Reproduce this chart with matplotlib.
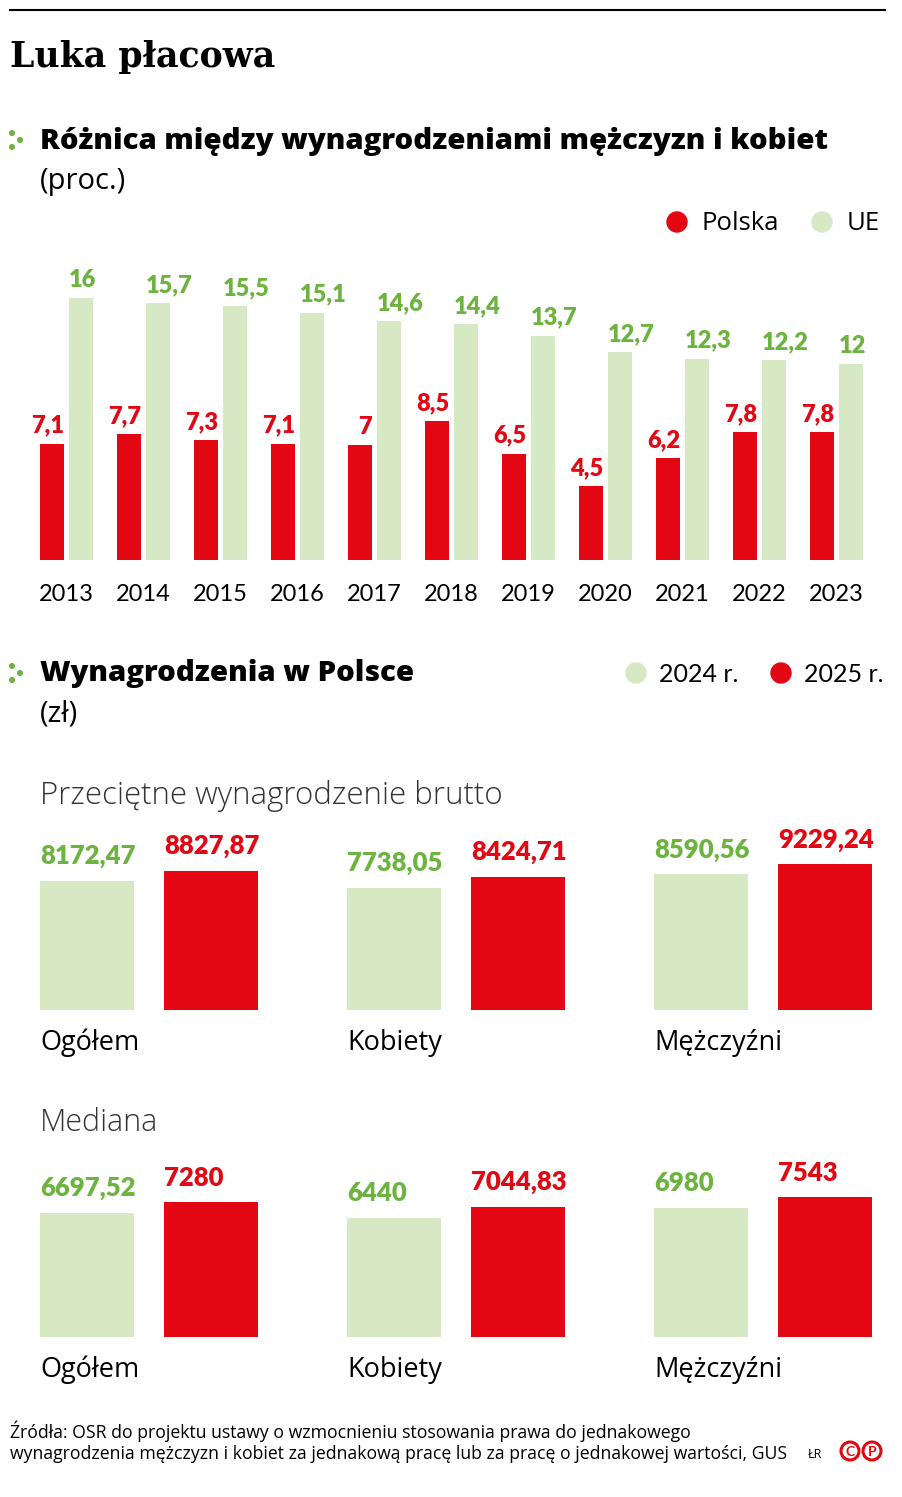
import matplotlib
matplotlib.use("Agg")
import matplotlib.pyplot as plt
from matplotlib.patches import Circle
import numpy as np

plt.rcParams['font.family'] = ['Lato', 'DejaVu Sans']
SANS = ['Open Sans', 'DejaVu Sans']

# --- data ---
years = ['2013', '2014', '2015', '2016', '2017', '2018', '2019', '2020', '2021', '2022', '2023']
gap_pl = [7.1, 7.7, 7.3, 7.1, 7.0, 8.5, 6.5, 4.5, 6.2, 7.8, 7.8]
gap_ue = [16, 15.7, 15.5, 15.1, 14.6, 14.4, 13.7, 12.7, 12.3, 12.2, 12]

groups = ['Ogółem', 'Kobiety', 'Mężczyźni']
brutto_2024 = [8172.47, 7738.05, 8590.56]
brutto_2025 = [8827.87, 8424.71, 9229.24]
median_2024 = [6697.52, 6440, 6980]
median_2025 = [7280, 7044.83, 7543]

RED = '#e30613'
LIGHT = '#d7e8c5'
GREEN = '#6cb33f'
W, H = 902, 1497


def px_axes(fig, left, top, width, bottom):
    return fig.add_axes([left / W, 1 - bottom / H, width / W, (bottom - top) / H])


def fmt_pct(v):
    return f"{v:g}".replace('.', ',')


def fmt_pln(v):
    return str(int(v)) if float(v).is_integer() else f"{v:.2f}".replace('.', ',')


def clean(ax):
    for s in ax.spines.values():
        s.set_visible(False)
    ax.set_yticks([])
    ax.tick_params(bottom=False, left=False)
    ax.patch.set_alpha(0)


def label_bars(ax, bars, values, fmt, color, size, pad, side):
    # side: 'left' -> text starts at bar's left edge, 'right' -> ends at right edge
    for p, v in zip(bars, values):
        x = p.get_x() if side == 'left' else p.get_x() + p.get_width()
        ax.annotate(fmt(v), xy=(x, p.get_height()), xytext=(0, pad), textcoords='offset points',
                    ha=side, va='bottom', color=color, fontsize=size, fontweight='heavy')


fig = plt.figure(figsize=(W / 100, H / 100), dpi=100)

# overlay for free text, pixel coords
ov = fig.add_axes([0, 0, 1, 1])
ov.set_xlim(0, W)
ov.set_ylim(H, 0)
ov.axis('off')

ov.plot([10, 885], [10, 10], color='black', lw=1.5)
ov.text(10, 57, 'Luka płacowa', fontsize=25, fontweight='bold', family='DejaVu Serif',
        va='center', ha='left')


def bullet(y):
    for dx, dy in [(12, -7), (20, 0), (12, 7)]:
        ov.add_patch(Circle((dx, y + dy), 2.3, color=GREEN))


bullet(140)
ov.text(40, 141, 'Różnica między wynagrodzeniami mężczyzn i kobiet', fontsize=21.2,
        fontweight='heavy', family=SANS, va='center', ha='left')
ov.text(40, 182, '(proc.)', fontsize=21, family=SANS, va='center', ha='left')

ov.add_patch(Circle((677, 222), 10, color=RED))
ov.text(702, 223, 'Polska', fontsize=18.5, family=SANS, va='center', ha='left')
ov.add_patch(Circle((822, 222), 10, color=LIGHT))
ov.text(847, 223, 'UE', fontsize=18.5, family=SANS, va='center', ha='left')

bullet(673)
ov.text(40, 673, 'Wynagrodzenia w Polsce', fontsize=21.2, fontweight='heavy', family=SANS,
        va='center', ha='left')
ov.text(40, 714, '(zł)', fontsize=21, family=SANS, va='center', ha='left')
ov.add_patch(Circle((636, 673), 10, color=LIGHT))
ov.text(659, 675, '2024 r.', fontsize=18, va='center', ha='left')
ov.add_patch(Circle((781, 673), 10, color=RED))
ov.text(804, 675, '2025 r.', fontsize=18, va='center', ha='left')

ov.text(40, 796, 'Przeciętne wynagrodzenie brutto', fontsize=22.5, fontweight='light',
        family=SANS, color='#333333', va='center', ha='left')
ov.text(40, 1123, 'Mediana', fontsize=22, fontweight='light', family=SANS,
        color='#333333', va='center', ha='left')

ov.text(10, 1431, 'Źródła: OSR do projektu ustawy o wzmocnieniu stosowania prawa do jednakowego',
        fontsize=12.7, family=SANS, va='center', ha='left')
ov.text(10, 1454, 'wynagrodzenia mężczyzn i kobiet za jednakową pracę lub za pracę o jednakowej wartości, GUS',
        fontsize=12.7, family=SANS, va='center', ha='left')
ov.text(808, 1455, 'ŁR', fontsize=9, family=SANS, va='center', ha='left')
for cx, ch in [(850, 'C'), (872, 'P')]:
    ov.add_patch(Circle((cx, 1451), 9, fill=False, ec=RED, lw=2.2))
    ov.text(cx, 1452, ch, fontsize=10, fontweight='bold', color=RED, va='center', ha='center')

# --- chart 1: pay gap ---
ax1 = px_axes(fig, 0, 250, W, 560)
step = 77.0
r = np.arange(len(years))
bw = 24 / step
off = 14.5 / step
b_pl = ax1.bar(r - off, gap_pl, bw, color=RED)
b_ue = ax1.bar(r + off, gap_ue, bw, color=LIGHT)
ax1.set_xlim(-66.5 / step, (W - 66.5) / step)
ax1.set_ylim(0, 310 / 16.375)
label_bars(ax1, b_pl, gap_pl, fmt_pct, RED, 17, 5, 'right')
label_bars(ax1, b_ue, gap_ue, fmt_pct, GREEN, 17, 5, 'left')
ax1.set_xticks(r)
ax1.set_xticklabels(years, fontsize=17)
ax1.tick_params(axis='x', pad=14)
clean(ax1)


# --- chart 2: wages ---
def wage_panel(top, bottom, scale, v24, v25):
    ax = px_axes(fig, 0, top, W, bottom)
    step2 = 307.0
    g = np.arange(len(groups))
    w2 = 94 / step2
    o2 = 62 / step2
    b24 = ax.bar(g - o2, v24, w2, color=LIGHT)
    b25 = ax.bar(g + o2, v25, w2, color=RED)
    ax.set_xlim(-149 / step2, (W - 149) / step2)
    ax.set_ylim(0, (bottom - top) / scale)
    label_bars(ax, b24, v24, fmt_pln, GREEN, 18.5, 9, 'left')
    label_bars(ax, b25, v25, fmt_pln, RED, 18.5, 9, 'left')
    for i, name in enumerate(groups):
        ax.annotate(name, xy=(i - o2 - w2 / 2, 0), xycoords=('data', 'axes fraction'),
                    xytext=(0, -23.5), textcoords='offset points', ha='left', va='center',
                    fontsize=19.5, family=SANS)
    ax.set_xticks([])
    clean(ax)
    return ax


wage_panel(820, 1010, 0.0158, brutto_2024, brutto_2025)
wage_panel(1150, 1337, 0.01852, median_2024, median_2025)

fig.savefig('out.png', dpi=100)
